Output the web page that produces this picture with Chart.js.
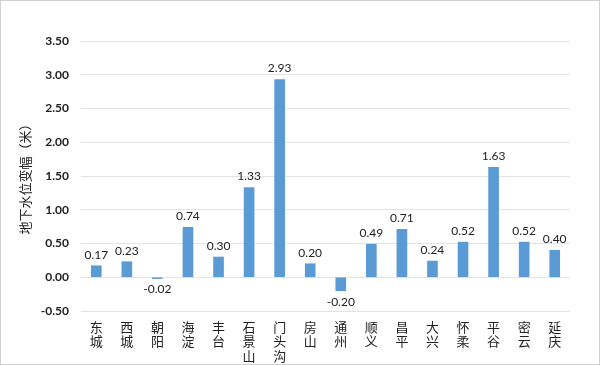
<!DOCTYPE html>
<html>
<head>
<meta charset="utf-8">
<script src="https://cdn.jsdelivr.net/npm/chart.js@4"></script>
<style>
  html, body { margin: 0; padding: 0; background: #fff; }
  #wrap { width: 598px; height: 363px; border: 1px solid #d0d0d0; position: relative; }
</style>
</head>
<body>
<div id="wrap"><canvas id="chart" width="598" height="363"></canvas></div>
<script>
const districts = ['东城', '西城', '朝阳', '海淀', '丰台', '石景山', '门头沟', '房山',
    '通州', '顺义', '昌平', '大兴', '怀柔', '平谷', '密云', '延庆']
const levelChange = [0.17, 0.23, -0.02, 0.74, 0.30, 1.33, 2.93, 0.20,
    -0.20, 0.49, 0.71, 0.24, 0.52, 1.63, 0.52, 0.40]
const yTitle = '地下水位变幅（米）'

const numFont = 'Lato, "Noto Sans", "Noto Sans CJK SC", sans-serif'
const cjkFont = '"Noto Sans CJK SC", sans-serif'

// draw value labels above (or below) each bar
const barLabels = {
    id: 'barLabels',
    afterDatasetsDraw(chart) {
        const ctx = chart.ctx
        const meta = chart.getDatasetMeta(0)
        ctx.save()
        ctx.font = '12px ' + numFont
        ctx.fillStyle = '#222'
        ctx.textAlign = 'center'
        meta.data.forEach((bar, i) => {
            const v = levelChange[i]
            if (v >= 0) {
                ctx.textBaseline = 'bottom'
                ctx.fillText(v.toFixed(2), bar.x, bar.y - 5)
            } else {
                ctx.textBaseline = 'top'
                ctx.fillText(v.toFixed(2), bar.x, bar.y + 5)
            }
        })
        ctx.restore()
    }
}

const config = {
    type: 'bar',
    data: {
        labels: districts.map(d => d.split('')),
        datasets: [{
            data: levelChange,
            backgroundColor: '#5b9bd5',
            barThickness: 10
        }]
    },
    options: {
        responsive: false,
        animation: false,
        layout: {
            padding: { top: 40, right: 29, bottom: 0, left: 16 }
        },
        scales: {
            x: {
                grid: { display: false },
                border: { display: false },
                ticks: {
                    color: '#222',
                    maxRotation: 0,
                    autoSkip: false,
                    padding: 1,
                    font: { family: cjkFont, size: 13, lineHeight: 1.1 }
                },
                afterFit: s => { s.height = 53 }
            },
            y: {
                min: -0.5,
                max: 3.5,
                grid: { color: '#e3e3e3', drawTicks: false },
                border: { display: false },
                ticks: {
                    stepSize: 0.5,
                    padding: 12,
                    color: '#222',
                    font: { family: numFont, size: 12, weight: 'bold' },
                    callback: v => Number(v).toFixed(2)
                },
                title: {
                    display: true,
                    text: yTitle,
                    color: '#222',
                    padding: 0,
                    font: { family: cjkFont, size: 13 }
                },
                afterFit: s => { s.width = 64 }
            }
        },
        plugins: {
            legend: { display: false },
            tooltip: { enabled: false }
        }
    },
    plugins: [barLabels]
}

new Chart(document.getElementById('chart'), config)
</script>
</body>
</html>
